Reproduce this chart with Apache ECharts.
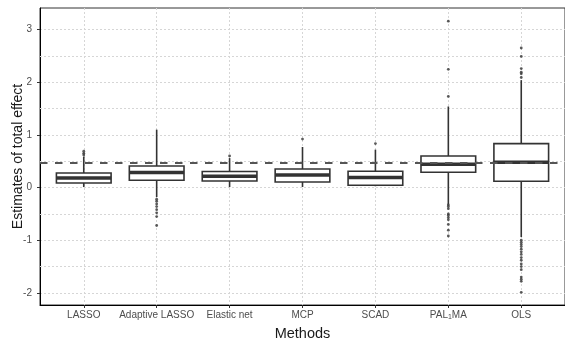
<!DOCTYPE html>
<html><head><meta charset="utf-8">
<script src="https://cdn.jsdelivr.net/npm/echarts@6/dist/echarts.min.js"></script>
<style>html,body{margin:0;padding:0;background:#fff}#c{width:565px;height:344px}</style>
</head><body><div id="c"></div>
<script>
// ---- data ----
const categories = ['LASSO', 'Adaptive LASSO', 'Elastic net', 'MCP', 'SCAD', 'PAL1MA', 'OLS'];
const lowerWhisker = [0.01, -0.18, 0.01, 0.01, 0.025, -0.32, -0.94];
const q1 = [0.087, 0.139, 0.125, 0.106, 0.044, 0.29, 0.12];
const medians = [0.182, 0.285, 0.214, 0.239, 0.19, 0.442, 0.48];
const q3 = [0.277, 0.41, 0.304, 0.353, 0.309, 0.60, 0.835];
const upperWhisker = [0.59, 1.10, 0.56, 0.77, 0.72, 1.54, 2.04];
const outliers = [
  [0.62, 0.65, 0.69],
  [-0.22, -0.26, -0.31, -0.36, -0.42, -0.48, -0.55, -0.72],
  [0.60],
  [0.92],
  [0.835],
  [1.73, 2.245, 3.16, -0.33, -0.36, -0.40, -0.50, -0.53, -0.57, -0.61, -0.70, -0.81, -0.92],
  [2.09, 2.16, 2.19, 2.26, 2.49, 2.65, -1.0, -1.04, -1.08, -1.12, -1.17, -1.22, -1.27, -1.33, -1.38, -1.45, -1.5, -1.56, -1.7, -1.74, -1.78, -1.99]
];
const referenceValue = 0.474;
const yTickValues = [-2, -1, 0, 1, 2, 3];
const yMinorValues = [-1.5, -0.5, 0.5, 1.5, 2.5];
const yMin = -2.23, yMax = 3.41;

// ---- build ----
const xPos = categories.map((c, i) => i + 1);
const boxData = categories.map((c, i) => [xPos[i], lowerWhisker[i], q1[i], medians[i], q3[i], upperWhisker[i]]);
const outlierData = [];
outliers.forEach((arr, i) => arr.forEach(v => outlierData.push([xPos[i], v])));

const INK = '#333333';
const FONT = '"Liberation Sans", Arial, sans-serif';

function renderBox(params, api) {
  const x = api.value(0);
  const lo = api.coord([x, api.value(1)]);
  const b1 = api.coord([x, api.value(2)]);
  const md = api.coord([x, api.value(3)]);
  const b3 = api.coord([x, api.value(4)]);
  const hi = api.coord([x, api.value(5)]);
  const w = api.size([0.75, 0])[0];
  const cx = lo[0];
  return {
    type: 'group',
    children: [
      { type: 'line', shape: { x1: cx, y1: hi[1], x2: cx, y2: b3[1] }, style: { stroke: INK, lineWidth: 1.6 } },
      { type: 'line', shape: { x1: cx, y1: b1[1], x2: cx, y2: lo[1] }, style: { stroke: INK, lineWidth: 1.6 } },
      { type: 'rect', shape: { x: cx - w / 2, y: b3[1], width: w, height: b1[1] - b3[1] }, style: { fill: '#fff', stroke: INK, lineWidth: 1.6 } },
      { type: 'line', shape: { x1: cx - w / 2, y1: md[1], x2: cx + w / 2, y2: md[1] }, style: { stroke: INK, lineWidth: 3.4 } }
    ]
  };
}

const gridLine = { show: true, lineStyle: { color: '#d6d6d6', width: 1, type: [2, 2] } };

const chart = echarts.init(document.getElementById('c'), null, { renderer: 'canvas' });
chart.setOption({
  animation: false,
  textStyle: { fontFamily: FONT },
  grid: {
    left: 40, right: 0, top: 8, bottom: 39, containLabel: false, outerBoundsMode: 'none',
    show: true, borderColor: INK, borderWidth: 1, backgroundColor: 'transparent'
  },
  xAxis: {
    type: 'value', min: 0.4, max: 7.6, splitNumber: 7,
    name: 'Methods', nameLocation: 'middle', nameGap: 21, nameMoveOverlap: false,
    nameTextStyle: { fontSize: 14.5, color: '#1a1a1a', fontFamily: FONT },
    axisLine: { show: true, onZero: false, lineStyle: { color: '#000', width: 1 } },
    axisTick: { show: true, length: 3, lineStyle: { color: INK }, customValues: xPos },
    axisLabel: {
      customValues: xPos, margin: 4, fontSize: 10, lineHeight: 12, color: '#4d4d4d', fontFamily: FONT,
      formatter: function (v) {
        const r = Math.round(v);
        if (Math.abs(v - r) > 1e-6 || r < 1 || r > categories.length) return '';
        const n = categories[r - 1];
        return n === 'PAL1MA' ? '{n|PAL}{sub|1}{n|MA}' : n;
      },
      rich: {
        n: { fontSize: 10, lineHeight: 12, color: '#4d4d4d', fontFamily: FONT },
        sub: { fontSize: 7, lineHeight: 12, verticalAlign: 'bottom', color: '#4d4d4d', fontFamily: FONT }
      }
    },
    splitLine: gridLine
  },
  yAxis: {
    type: 'value', min: yMin, max: yMax, splitNumber: 5,
    name: 'Estimates of total effect', nameLocation: 'middle', nameGap: 15, nameRotate: 90, nameMoveOverlap: false,
    nameTextStyle: { fontSize: 14, color: '#1a1a1a', fontFamily: FONT },
    axisLine: { show: true, onZero: false, lineStyle: { color: '#000', width: 1 } },
    axisTick: { show: true, length: 3, lineStyle: { color: INK }, customValues: yTickValues },
    axisLabel: {
      customValues: yTickValues, margin: 8, fontSize: 10, color: '#4d4d4d', fontFamily: FONT,
      formatter: function (v) { return Math.abs(v - Math.round(v)) < 1e-6 ? String(Math.round(v)) : ''; }
    },
    splitLine: gridLine
  },
  series: [
    {
      type: 'scatter', data: [], z: 1, silent: true,
      markLine: {
        silent: true, symbol: 'none', z: 1, label: { show: false },
        lineStyle: { color: '#d6d6d6', width: 1, type: [2, 2] },
        data: yMinorValues.map(v => ({ yAxis: v }))
      }
    },
    {
      type: 'custom', renderItem: renderBox, data: boxData, z: 3,
      encode: { x: 0, y: [1, 2, 3, 4, 5] }
    },
    {
      type: 'scatter', data: outlierData, z: 4, symbol: 'circle', symbolSize: 2.8,
      itemStyle: { color: INK }
    },
    {
      type: 'scatter', data: [], z: 10, silent: true,
      markLine: {
        silent: true, symbol: 'none', z: 10, label: { show: false },
        lineStyle: { color: '#555555', width: 2, type: [7.5, 7.5] },
        data: [{ yAxis: referenceValue }]
      }
    }
  ]
});
</script>
</body></html>
